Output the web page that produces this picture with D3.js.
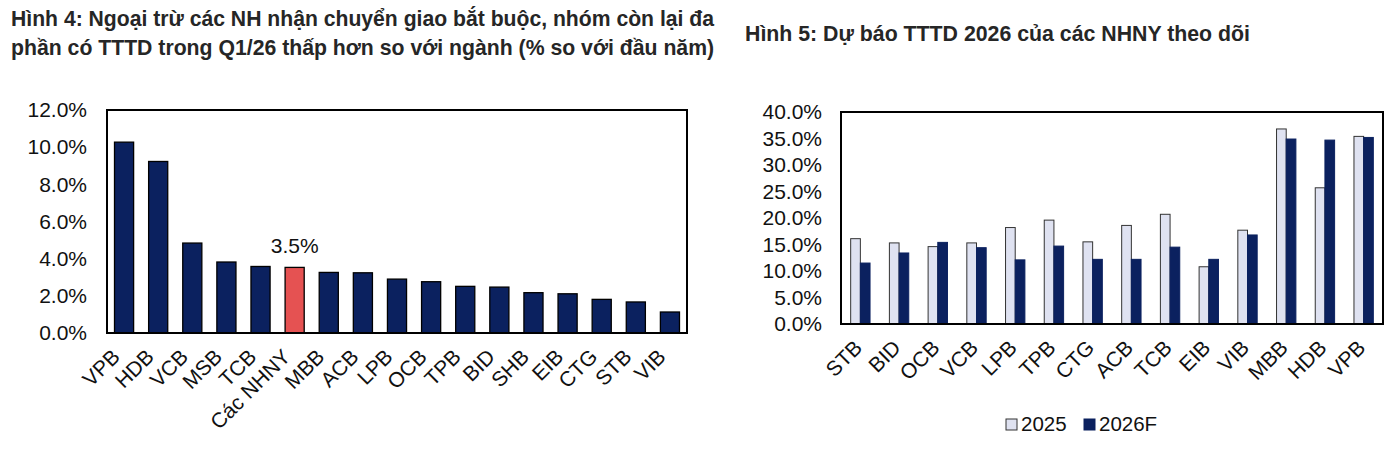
<!DOCTYPE html>
<html>
<head>
<meta charset="utf-8">
<script src="https://cdn.jsdelivr.net/npm/d3@7"></script>
<style>
  html, body { margin: 0; padding: 0; background: #ffffff; }
  svg { display: block; font-family: "Liberation Sans", Arial, sans-serif; }
</style>
</head>
<body>
<svg id="chart" width="1400" height="460"></svg>
<script>
// ---- Data: Hình 4 ----
const banks4 = ["VPB","HDB","VCB","MSB","TCB","Các NHNY","MBB","ACB","LPB","OCB","TPB","BID","SHB","EIB","CTG","STB","VIB"];
const growth4 = [10.27, 9.23, 4.84, 3.82, 3.58, 3.53, 3.26, 3.24, 2.90, 2.76, 2.51, 2.47, 2.17, 2.11, 1.81, 1.67, 1.13];
const highlight4 = "Các NHNY";
const highlightLabel4 = "3.5%";
const yTicks4 = [0, 2, 4, 6, 8, 10, 12];

// ---- Data: Hình 5 ----
const banks5 = ["STB","BID","OCB","VCB","LPB","TPB","CTG","ACB","TCB","EIB","VIB","MBB","HDB","VPB"];
const series5 = ["2025", "2026F"];
const val2025 = [16.1, 15.3, 14.6, 15.3, 18.2, 19.6, 15.5, 18.6, 20.7, 10.8, 17.7, 36.8, 25.7, 35.4];
const val2026 = [11.5, 13.4, 15.4, 14.4, 12.1, 14.7, 12.2, 12.2, 14.5, 12.2, 16.8, 34.9, 34.7, 35.2];
const yTicks5 = [0, 5, 10, 15, 20, 25, 30, 35, 40];

const title4a = "Hình 4: Ngoại trừ các NH nhận chuyển giao bắt buộc, nhóm còn lại đa";
const title4b = "phần có TTTD trong Q1/26 thấp hơn so với ngành (% so với đầu năm)";
const title5 = "Hình 5: Dự báo TTTD 2026 của các NHNY theo dõi";

const NAVY = "#0b215f", RED = "#e55252", LIGHT = "#dfe2f1";
const FONT = '"Liberation Sans", Arial, sans-serif';
const AX = 21;
const svg = d3.select("#chart");
const fmt = d => d.toFixed(1) + "%";

// ---- Titles (fit to reference widths) ----
function fitText(sel, target) {
  const w = sel.node().getComputedTextLength();
  const fs = parseFloat(sel.attr("font-size"));
  sel.attr("font-size", (fs * target / w).toFixed(2));
}
const tStyle = s => s.attr("font-weight", "bold").attr("fill", "#262626").attr("font-size", 18);
fitText(tStyle(svg.append("text").attr("x", 11).attr("y", 26).text(title4a)), 703);
fitText(tStyle(svg.append("text").attr("x", 11).attr("y", 55).text(title4b)), 703);
fitText(tStyle(svg.append("text").attr("x", 745).attr("y", 41).text(title5)), 505);

function styleAxis(a) {
  a.attr("font-family", FONT).attr("font-size", AX);
  a.select(".domain").remove();
  a.selectAll("text").attr("fill", "#111");
}

// ---- Chart 4 ----
{
  const L = 107, R = 687, T = 110, B = 333;
  const x = d3.scaleBand().domain(banks4).range([L, R]).paddingInner(0.44).paddingOuter(0.22);
  const y = d3.scaleLinear().domain([0, 12]).range([B, T]);

  const g = svg.append("g");
  g.selectAll("rect.bar").data(banks4).join("rect")
    .attr("class", "bar")
    .attr("x", d => x(d))
    .attr("width", x.bandwidth())
    .attr("y", (d, i) => y(growth4[i]))
    .attr("height", (d, i) => y(0) - y(growth4[i]))
    .attr("fill", d => d === highlight4 ? RED : NAVY)
    .attr("stroke", "#000").attr("stroke-width", 1.3);

  const hi = banks4.indexOf(highlight4);
  g.append("text")
    .attr("x", x(highlight4) + x.bandwidth() / 2)
    .attr("y", y(growth4[hi]) - 14)
    .attr("text-anchor", "middle").attr("font-size", AX).attr("fill", "#111")
    .text(highlightLabel4);

  g.append("rect").attr("x", L).attr("y", T).attr("width", R - L).attr("height", B - T)
    .attr("fill", "none").attr("stroke", "#000").attr("stroke-width", 2);

  const ya = g.append("g").attr("transform", `translate(${L},0)`)
    .call(d3.axisLeft(y).tickValues(yTicks4).tickFormat(fmt).tickSize(0).tickPadding(20));
  styleAxis(ya);

  const xa = g.append("g").attr("transform", `translate(0,${B})`)
    .call(d3.axisBottom(x).tickSize(0).tickPadding(0));
  styleAxis(xa);
  xa.selectAll("text")
    .attr("text-anchor", "end")
    .attr("x", 0).attr("y", 0).attr("dy", 0)
    .attr("transform", "translate(-3,25) rotate(-45)");
}

// ---- Chart 5 ----
{
  const L = 841, R = 1383, T = 112, B = 324;
  const x0 = d3.scaleBand().domain(banks5).range([L, R]).paddingInner(0.5).paddingOuter(0.25);
  const x1 = d3.scaleBand().domain(series5).range([0, x0.bandwidth()]);
  const y = d3.scaleLinear().domain([0, 40]).range([B, T]);
  const rows = banks5.map((b, i) => ({ bank: b, vals: [val2025[i], val2026[i]] }));

  const g = svg.append("g");
  const grp = g.selectAll("g.grp").data(rows).join("g")
    .attr("class", "grp").attr("transform", d => `translate(${x0(d.bank)},0)`);
  grp.selectAll("rect").data(d => d.vals.map((v, k) => ({ s: series5[k], v }))).join("rect")
    .attr("x", d => x1(d.s))
    .attr("width", x1.bandwidth())
    .attr("y", d => y(d.v))
    .attr("height", d => y(0) - y(d.v))
    .attr("fill", d => d.s === "2025" ? LIGHT : NAVY)
    .attr("stroke", d => d.s === "2025" ? "#333" : NAVY)
    .attr("stroke-width", 1);

  g.append("rect").attr("x", L).attr("y", T).attr("width", R - L).attr("height", B - T)
    .attr("fill", "none").attr("stroke", "#000").attr("stroke-width", 2);

  const ya = g.append("g").attr("transform", `translate(${L},0)`)
    .call(d3.axisLeft(y).tickValues(yTicks5).tickFormat(fmt).tickSize(0).tickPadding(19));
  styleAxis(ya);

  const xa = g.append("g").attr("transform", `translate(0,${B})`)
    .call(d3.axisBottom(x0).tickSize(0).tickPadding(0));
  styleAxis(xa);
  xa.selectAll("text")
    .attr("text-anchor", "end")
    .attr("x", 0).attr("y", 0).attr("dy", 0)
    .attr("transform", "translate(3,25) rotate(-45)");

  // Legend
  const leg = g.append("g").attr("font-family", FONT);
  const items = [{ s: "2025", x: 1006 }, { s: "2026F", x: 1084 }];
  items.forEach(it => {
    leg.append("rect").attr("x", it.x).attr("y", 419).attr("width", 11).attr("height", 11)
      .attr("fill", it.s === "2025" ? LIGHT : NAVY)
      .attr("stroke", it.s === "2025" ? "#333" : NAVY).attr("stroke-width", 1);
    leg.append("text").attr("x", it.x + 15).attr("y", 431)
      .attr("font-size", 20.5).attr("fill", "#111").text(it.s);
  });
}
</script>
</body>
</html>
